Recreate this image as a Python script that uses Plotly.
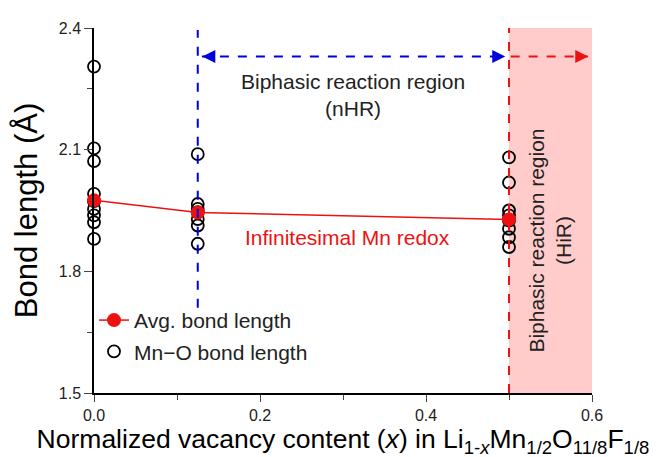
import plotly.graph_objects as go

# Data
x0_bonds = [2.305, 2.103, 2.072, 1.991, 1.973, 1.954, 1.938, 1.921, 1.880]
x1_bonds = [2.089, 1.966, 1.954, 1.946, 1.929, 1.913, 1.868]
x2_bonds = [2.081, 2.019, 1.950, 1.938, 1.925, 1.905, 1.884, 1.860]
vacancy = [0.0, 0.125, 0.5]
avg_bond = [1.975, 1.945, 1.928]
x_ticks = [0, 0.2, 0.4, 0.6]
x_ticktext = ["0.0", "0.2", "0.4", "0.6"]
y_ticks = [1.5, 1.8, 2.1, 2.4]

mn_x = [vacancy[0]] * len(x0_bonds) + [vacancy[1]] * len(x1_bonds) + [vacancy[2]] * len(x2_bonds)
mn_y = x0_bonds + x1_bonds + x2_bonds

FONT = "Liberation Sans, Arial, sans-serif"
BLUE = "#0000dd"
RED = "#ee1111"
arrow_y = 2.330

fig = go.Figure()

# shaded HiR region
fig.add_shape(type="rect", x0=0.5, x1=0.6, y0=1.5, y1=2.4, xref="x", yref="y",
              fillcolor="rgba(255,160,160,0.55)", line=dict(width=0), layer="below")
# vertical dashed lines
fig.add_shape(type="line", x0=vacancy[1], x1=vacancy[1], y0=1.71, y1=2.395,
              line=dict(color=BLUE, width=2, dash="dash"))
fig.add_shape(type="line", x0=vacancy[2], x1=vacancy[2], y0=1.5, y1=2.4,
              line=dict(color=RED, width=2, dash="dash"))
# horizontal dashed arrows (shafts)
fig.add_shape(type="line", x0=0.13, x1=0.496, y0=arrow_y, y1=arrow_y,
              line=dict(color=BLUE, width=2, dash="dash"))
fig.add_shape(type="line", x0=0.502, x1=0.595, y0=arrow_y, y1=arrow_y,
              line=dict(color=RED, width=2, dash="dash"))

fig.add_trace(go.Scatter(x=mn_x, y=mn_y, mode="markers", name="Mn\u2212O bond length",
                         legendgroup="b", legendrank=2,
                         marker=dict(symbol="circle-open", size=12, color="black", line=dict(width=1.8)),
                         cliponaxis=False))
fig.add_trace(go.Scatter(x=vacancy, y=avg_bond, mode="lines+markers", name="Avg. bond length",
                         legendgroup="a", legendrank=1,
                         line=dict(color=RED, width=1.5),
                         marker=dict(symbol="circle", size=14, color=RED),
                         cliponaxis=False))

# arrow heads
def head(x, dx, color):
    fig.add_annotation(x=x, y=arrow_y, xref="x", yref="y", ax=dx, ay=0, text="",
                       showarrow=True, arrowhead=2, arrowsize=1.3, arrowwidth=2, arrowcolor=color)

head(0.4955, -8, BLUE)
head(0.1305, 8, BLUE)
head(0.5955, -8, RED)

fig.add_annotation(x=0.312, y=2.236, xref="x", yref="y", showarrow=False,
                   text="Biphasic reaction region<br>(nHR)", font=dict(family=FONT, size=21, color="#222"))
fig.add_annotation(x=0.306, y=1.883, xref="x", yref="y", showarrow=False,
                   text="Infinitesimal Mn redox", font=dict(family=FONT, size=21, color=RED))
fig.add_annotation(x=0.549, y=1.875, xref="x", yref="y", showarrow=False, textangle=-90,
                   text="Biphasic reaction region<br>(HiR)", font=dict(family=FONT, size=21, color="#222"))

fig.update_layout(
    width=660, height=457,
    margin=dict(l=86, r=76, t=18, b=72),
    plot_bgcolor="white", paper_bgcolor="white",
    showlegend=True,
    legend=dict(x=0.0, y=0.255, xanchor="left", yanchor="top", traceorder="grouped",
                font=dict(family=FONT, size=21, color="#222"), bgcolor="rgba(0,0,0,0)",
                itemwidth=30, tracegroupgap=1),
    font=dict(family=FONT),
    yaxis2=dict(overlaying="y", side="right", range=[1.5, 2.4], tickvals=y_ticks,
                ticks="inside", ticklen=7, tickwidth=1.3, showline=True, linecolor="black", linewidth=1.5,
                showticklabels=False, showgrid=False, zeroline=False,
                minor=dict(tickvals=[1.65, 1.95, 2.25], ticks="inside", ticklen=5, tickwidth=1.3)),
    xaxis=dict(range=[0, 0.6], tickvals=x_ticks, ticktext=x_ticktext,
               ticks="outside", ticklen=7, tickwidth=1.3, showline=True, linecolor="black", linewidth=1.5,
               showgrid=False, zeroline=False, tickfont=dict(family=FONT, size=16, color="#222"),
               minor=dict(tickvals=[0.1, 0.3, 0.5], ticks="outside", ticklen=5, tickwidth=1.3),
               title=dict(text="Normalized vacancy content (<i>x</i>) in Li<sub>1-<i>x</i></sub>Mn<sub>1/2</sub>O<sub>11/8</sub>F<sub>1/8</sub>",
                          font=dict(family=FONT, size=26.5, color="black"), standoff=6)),
    yaxis=dict(range=[1.5, 2.4], tickvals=y_ticks,
               ticks="outside", ticklen=8, tickwidth=1.3, showline=True, linecolor="black", linewidth=1.5,
               showgrid=False, zeroline=False, tickfont=dict(family=FONT, size=16, color="#222"),
               minor=dict(tickvals=[1.65, 1.95, 2.25], ticks="outside", ticklen=5, tickwidth=1.3),
               title=dict(text="Bond length (\u00c5)", font=dict(family=FONT, size=31, color="black"), standoff=12)),
)

fig.write_html("out.html")
